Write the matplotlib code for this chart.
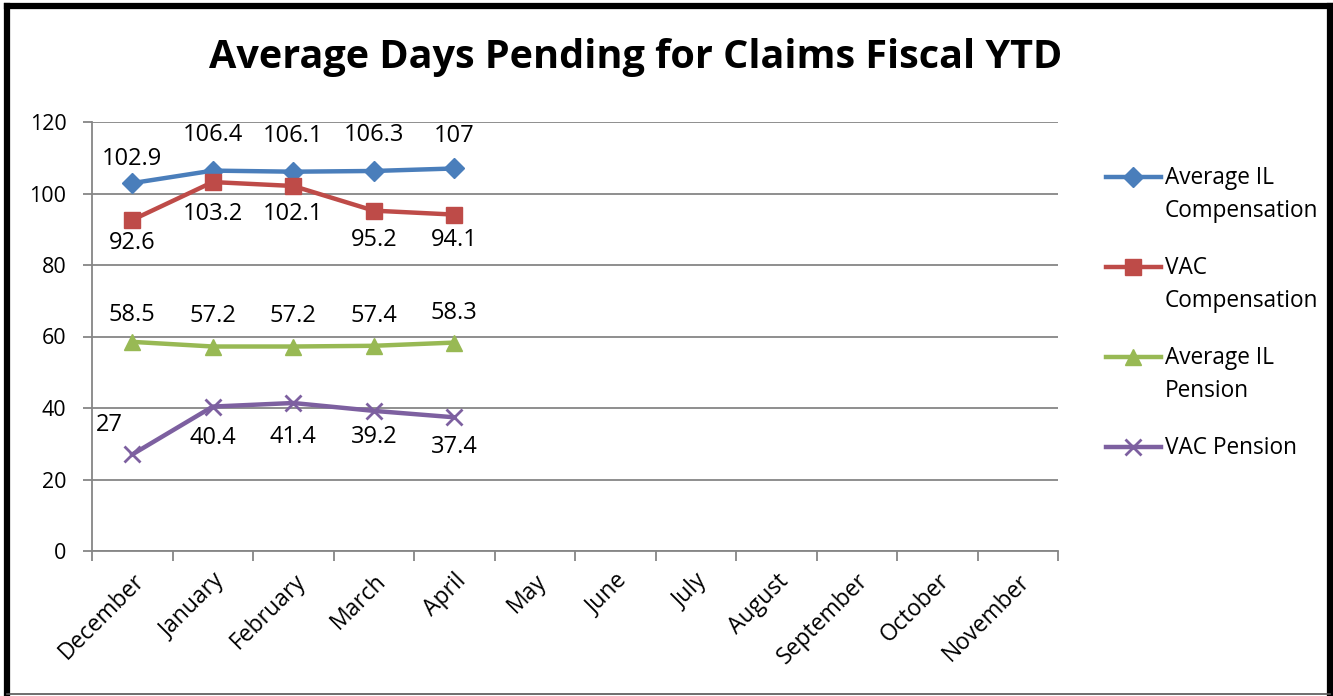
import matplotlib
matplotlib.use("Agg")
import matplotlib.pyplot as plt
from matplotlib.lines import Line2D

plt.rcParams['font.family'] = ['Open Sans', 'DejaVu Sans']

months = ["December", "January", "February", "March", "April", "May", "June",
          "July", "August", "September", "October", "November"]
il_comp = [102.9, 106.4, 106.1, 106.3, 107]
vac_comp = [92.6, 103.2, 102.1, 95.2, 94.1]
il_pension = [58.5, 57.2, 57.2, 57.4, 58.3]
vac_pension = [27, 40.4, 41.4, 39.2, 37.4]
series_names = [["Average IL", "Compensation"], ["VAC", "Compensation"],
                ["Average IL", "Pension"], ["VAC Pension"]]
title = "Average Days Pending for Claims Fiscal YTD"
yticks = [0, 20, 40, 60, 80, 100, 120]

colors = ["#4A7EBB", "#BE4B48", "#98B954", "#7D60A0"]
markers = ["D", "s", "^", "x"]
msizes = [10, 12, 11, 12]
# label offsets in pixels (dx, dy)
offsets = [
    [(0, 24), (0, 36), (0, 36), (0, 36), (0, 32)],
    [(0, -23), (0, -32), (0, -28), (0, -29), (0, -25)],
    [(0, 27), (0, 31), (0, 31), (0, 30), (0, 30)],
    [(-23, 29), (0, -31), (0, -34), (0, -26), (0, -30)],
]

FS = 17
W, H = 1333, 696
fig = plt.figure(figsize=(W / 100, H / 100), dpi=100)
ax = fig.add_axes([92 / W, 1 - 551 / H, (1058 - 92) / W, (551 - 122) / H])

x = list(range(len(months)))
data = [il_comp, vac_comp, il_pension, vac_pension]
for i, (vals, c, m, ms) in enumerate(zip(data, colors, markers, msizes)):
    xi = x[:len(vals)]
    ax.plot(xi, vals, color=c, lw=3.2, marker=m, ms=ms,
            mew=2 if m == "x" else 1, mec=c, mfc=c, zorder=3)
    for j, v in enumerate(vals):
        dx, dy = offsets[i][j]
        ax.annotate(f"{v:g}", (xi[j], v), xytext=(dx, dy), textcoords="offset pixels",
                    ha="center", va="center", fontsize=FS, color="black", zorder=4)

ax.set_xlim(-0.5, len(months) - 0.5)
ax.set_ylim(0, 120)
ax.set_yticks(yticks)
ax.set_yticklabels([str(t) for t in yticks], fontsize=15.5)
ax.yaxis.grid(True, color="#868686", lw=1.3)
ax.set_axisbelow(True)
ax.set_xticks([i + 0.5 for i in range(-1, len(months))], minor=False)
ax.set_xticklabels([""] * (len(months) + 1))
ax.set_xticks(x, minor=True)
ax.set_xticklabels(months, minor=True, rotation=45, ha="right", rotation_mode="anchor",
                   fontsize=16.5)
ax.tick_params(axis="x", which="major", length=7, width=1.3, color="#868686", direction="out")
ax.tick_params(axis="x", which="minor", length=0, pad=13)
ax.tick_params(axis="y", length=6.5, width=1.3, color="#868686", direction="out", pad=12)
for s in ["top", "right"]:
    ax.spines[s].set_visible(False)
for s in ["left", "bottom"]:
    ax.spines[s].set_color("#868686")
    ax.spines[s].set_linewidth(1.3)

fig.text(636 / W, 1 - 68 / H, title, ha="center", va="baseline", fontsize=28.5, fontweight="bold")

# legend drawn manually
ly = [177, 267, 357, 447]
for c, m, ms, name, yy in zip(colors, markers, msizes, series_names, ly):
    yf = 1 - yy / H
    fig.add_artist(Line2D([1106 / W, 1133 / W, 1161 / W], [yf, yf, yf], transform=fig.transFigure,
                          color=c, lw=3.2, marker=m, ms=ms, markevery=[1],
                          mew=2 if m == "x" else 1, mec=c, mfc=c))
    for k, line in enumerate(name):
        fig.text(1165 / W, 1 - (yy + 7 + 33 * k) / H, line, ha="left", va="baseline", fontsize=16.3)

# frame
def fl(xs, ys, lw, col):
    fig.add_artist(Line2D([v / W for v in xs], [1 - v / H for v in ys], transform=fig.transFigure,
                          color=col, lw=lw, solid_capstyle="projecting"))
fl([7, 1330], [6, 6], 4.5, "black")
fl([7, 7], [6, 693], 4.5, "black")
fl([1330, 1330], [6, 693], 4.5, "black")
fl([7, 1330], [693.5, 693.5], 1.2, "#555555")

fig.savefig("out.png", dpi=100)
